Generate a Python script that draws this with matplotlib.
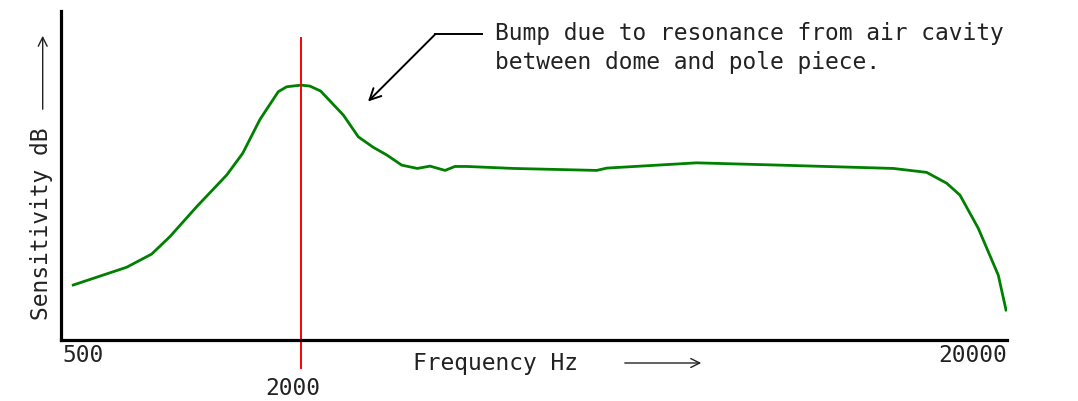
import matplotlib
matplotlib.use("Agg")
import matplotlib.pyplot as plt
from matplotlib.lines import Line2D

# Schematic frequency position (0-100 across axis) and relative sensitivity (0-100)
freq_pos = [1.35, 7.0, 9.64, 11.57, 14.4, 17.57, 19.26, 21.09, 23.02, 23.91, 25.42,
            26.37, 27.5, 29.9, 31.48, 33.07, 34.48, 36.07, 37.72, 39.06, 40.65, 41.7,
            42.94, 47.86, 56.68, 57.74, 67.25, 76.06, 88.03, 91.56, 93.68, 95.08,
            97.02, 99.13, 99.95]
sensitivity = [16.7, 22.1, 26.1, 31.4, 40.5, 50.1, 56.7, 67.0, 75.4, 76.9, 77.4,
               77.1, 75.6, 68.3, 61.7, 58.5, 56.2, 53.1, 52.1, 52.8, 51.5, 52.7,
               52.7, 52.1, 51.5, 52.2, 53.8, 53.1, 52.1, 50.9, 47.6, 44.0,
               33.9, 19.7, 9.1]
tick_pos = [0.0, 25.42, 100.0]
tick_labels = ["500", "2000", "20000"]
marker_pos = 25.42  # 2000 Hz marker

W, H = 1078, 401
FONT = "DejaVu Sans Mono"
TXT = "#222222"

fig = plt.figure(figsize=(W / 100, H / 100), dpi=100)
ax_l, ax_r, ax_t, ax_b = 60.5, 1006.5, 10.7, 340.0
ax = fig.add_axes([ax_l / W, 1 - ax_b / H, (ax_r - ax_l) / W, (ax_b - ax_t) / H])
ax.set_xlim(0, 100)
ax.set_ylim(0, 100)
for s in ("top", "right"):
    ax.spines[s].set_visible(False)
for s in ("left", "bottom"):
    ax.spines[s].set_linewidth(2.3)
    ax.spines[s].set_color("black")
ax.set_xticks([])
ax.set_yticks([])

ax.plot(freq_pos, sensitivity, color="#008000", lw=2.0, solid_joinstyle="miter")
ax.plot([marker_pos, marker_pos], [91.7, -8.5], color="red", lw=1.4, clip_on=False)

fs = 16.5
# tick labels
ax.text(tick_pos[0] + 0.2, -6.6, tick_labels[0], ha="left", va="baseline",
        fontsize=fs, family=FONT, color=TXT)
ax.text(tick_pos[1] - 0.9, -16.6, tick_labels[1], ha="center", va="baseline",
        fontsize=fs, family=FONT, color=TXT)
ax.text(tick_pos[2], -6.6, tick_labels[2], ha="right", va="baseline",
        fontsize=fs, family=FONT, color=TXT)

def fx(x):
    return x / W

def fy(y):
    return 1 - y / H

# x-axis label and arrow
fig.text(fx(413), fy(370), "Frequency Hz", ha="left", va="baseline",
         fontsize=fs, family=FONT, color=TXT)
fig.add_artist(matplotlib.patches.FancyArrowPatch(
    (fx(622), fy(363)), (fx(704), fy(363)), transform=fig.transFigure,
    arrowstyle="->", mutation_scale=16, lw=1.0, color=TXT))

# y-axis label and arrow
fig.text(fx(41.5), fy(223.5), "Sensitivity dB", ha="center", va="center",
         rotation=90, fontsize=fs, family=FONT, color=TXT)
fig.add_artist(matplotlib.patches.FancyArrowPatch(
    (fx(42.7), fy(112)), (fx(42.7), fy(33)), transform=fig.transFigure,
    arrowstyle="->", mutation_scale=16, lw=1.0, color=TXT))

# annotation
fig.text(fx(495), fy(40), "Bump due to resonance from air cavity", ha="left",
         va="baseline", fontsize=fs, family=FONT, color=TXT)
fig.text(fx(495), fy(69), "between dome and pole piece.", ha="left",
         va="baseline", fontsize=fs, family=FONT, color=TXT)
fig.add_artist(Line2D([fx(482), fx(435)], [fy(34), fy(34)],
                      transform=fig.transFigure, color="black", lw=1.4))
fig.add_artist(matplotlib.patches.FancyArrowPatch(
    (fx(435.5), fy(34)), (fx(368), fy(101.5)), transform=fig.transFigure,
    arrowstyle="->", mutation_scale=20, lw=1.4, color="black",
    shrinkA=0, shrinkB=0))

fig.savefig("out.png", dpi=100)
